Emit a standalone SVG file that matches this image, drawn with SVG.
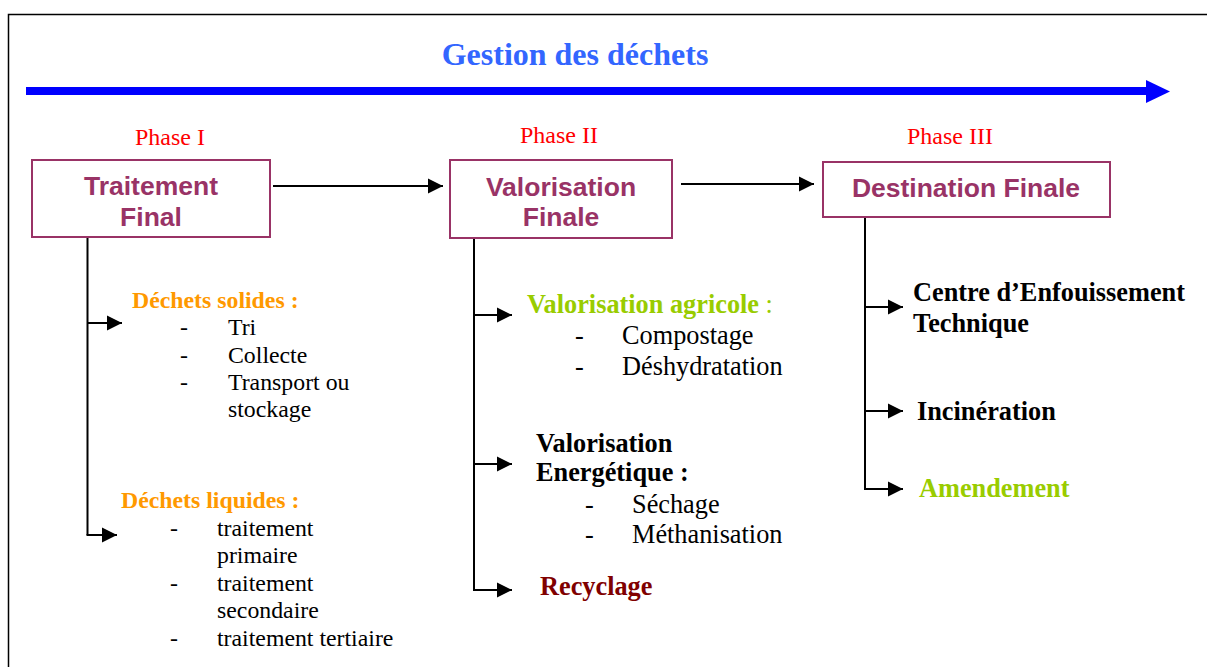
<svg xmlns="http://www.w3.org/2000/svg" width="1207" height="667" viewBox="0 0 1207 667">
<style>
.serif{font-family:"Liberation Serif","Times New Roman",serif}
.box{fill:#fff;stroke:#993366;stroke-width:2}
.bt{font-family:"Liberation Sans",Arial,sans-serif;font-weight:bold;font-size:26.5px;fill:#993366;text-anchor:middle}
.ph{font-family:"Liberation Serif","Times New Roman",serif;font-size:24px;fill:#FF0000;text-anchor:middle}
.con{stroke:#000;stroke-width:2;fill:none}
.b{font-weight:bold}
.l{font-family:"Liberation Serif","Times New Roman",serif;font-size:23.8px;fill:#000}
.m{font-family:"Liberation Serif","Times New Roman",serif;font-size:26.3px;fill:#000}
.r{font-family:"Liberation Serif","Times New Roman",serif;font-size:26.3px;fill:#000;font-weight:bold}
</style>
<defs>
<marker id="ah" markerUnits="userSpaceOnUse" markerWidth="16" markerHeight="16" viewBox="0 0 16 16" refX="15" refY="8" orient="auto">
<path d="M0,0.5 L15,8 L0,15.5 Z" fill="#000"/>
</marker>
</defs>
<rect x="0" y="0" width="1207" height="667" fill="#fff"/>
<rect x="8.5" y="14.5" width="1300" height="700" fill="none" stroke="#000" stroke-width="1.5"/>

<g id="title">
<text x="575" y="65" class="serif b" font-size="32" fill="#3366FF" text-anchor="middle">Gestion des déchets</text>
<path d="M26,91 H1147" stroke="#0000FF" stroke-width="8"/>
<path d="M1146,80 L1170,91.5 L1146,103 Z" fill="#0000FF"/>
</g>

<g id="connectors">
<path class="con" d="M273,186 H443" marker-end="url(#ah)"/>
<path class="con" d="M681,184 H814" marker-end="url(#ah)"/>
<path class="con" d="M87.5,237 V535"/>
<path class="con" d="M87,323 H122" marker-end="url(#ah)"/>
<path class="con" d="M86.5,535 H117" marker-end="url(#ah)"/>
<path class="con" d="M474,238 V590"/>
<path class="con" d="M474,315 H512" marker-end="url(#ah)"/>
<path class="con" d="M474,464 H512" marker-end="url(#ah)"/>
<path class="con" d="M473,590 H512" marker-end="url(#ah)"/>
<path class="con" d="M865,217 V489"/>
<path class="con" d="M865,307 H903" marker-end="url(#ah)"/>
<path class="con" d="M865,411 H903" marker-end="url(#ah)"/>
<path class="con" d="M864,489 H903" marker-end="url(#ah)"/>
</g>

<g id="phase1">
<text x="170" y="145" class="ph">Phase I</text>
<rect class="box" x="32" y="160" width="238" height="77"/>
<text x="151" y="195" class="bt">Traitement</text>
<text x="151" y="226" class="bt">Final</text>
</g>
<g id="phase2">
<text x="559" y="143" class="ph">Phase II</text>
<rect class="box" x="450" y="160" width="222" height="78"/>
<text x="561" y="196" class="bt">Valorisation</text>
<text x="561" y="226" class="bt">Finale</text>
</g>
<g id="phase3">
<text x="950" y="144" class="ph">Phase III</text>
<rect class="box" x="823" y="162" width="287" height="55"/>
<text x="966" y="197" class="bt">Destination Finale</text>
</g>

<g id="solides">
<text x="132" y="308" class="l b" style="fill:#FF9900">Déchets solides :</text>
<text x="180" y="335" class="l">-</text><text x="228" y="335" class="l">Tri</text>
<text x="180" y="363" class="l">-</text><text x="228" y="363" class="l">Collecte</text>
<text x="180" y="390" class="l">-</text><text x="228" y="390" class="l">Transport ou</text>
<text x="228" y="417" class="l">stockage</text>
</g>
<g id="liquides">
<text x="121" y="508" class="l b" style="fill:#FF9900">Déchets liquides :</text>
<text x="170" y="536" class="l">-</text><text x="217" y="536" class="l">traitement</text>
<text x="217" y="563" class="l">primaire</text>
<text x="170" y="591" class="l">-</text><text x="217" y="591" class="l">traitement</text>
<text x="217" y="618" class="l">secondaire</text>
<text x="170" y="646" class="l">-</text><text x="217" y="646" class="l">traitement tertiaire</text>
</g>

<g id="agricole">
<text x="527" y="313" class="m" style="fill:#99CC00"><tspan font-weight="bold">Valorisation agricole</tspan> :</text>
<text x="575" y="344" class="m">-</text><text x="622" y="344" class="m">Compostage</text>
<text x="575" y="375" class="m">-</text><text x="622" y="375" class="m">Déshydratation</text>
</g>
<g id="energetique">
<text x="536" y="452" class="m b">Valorisation</text>
<text x="536" y="481" class="m b">Energétique :</text>
<text x="585" y="513" class="m">-</text><text x="632" y="513" class="m">Séchage</text>
<text x="585" y="543" class="m">-</text><text x="632" y="543" class="m">Méthanisation</text>
</g>
<g id="recyclage">
<text x="540" y="595" class="m b" style="fill:#800000">Recyclage</text>
</g>

<g id="cet">
<text x="913" y="301" class="r">Centre d’Enfouissement</text>
<text x="913" y="332" class="r">Technique</text>
</g>
<g id="incineration">
<text x="917" y="420" class="r">Incinération</text>
</g>
<g id="amendement">
<text x="919" y="497" class="r" style="fill:#99CC00">Amendement</text>
</g>
</svg>
